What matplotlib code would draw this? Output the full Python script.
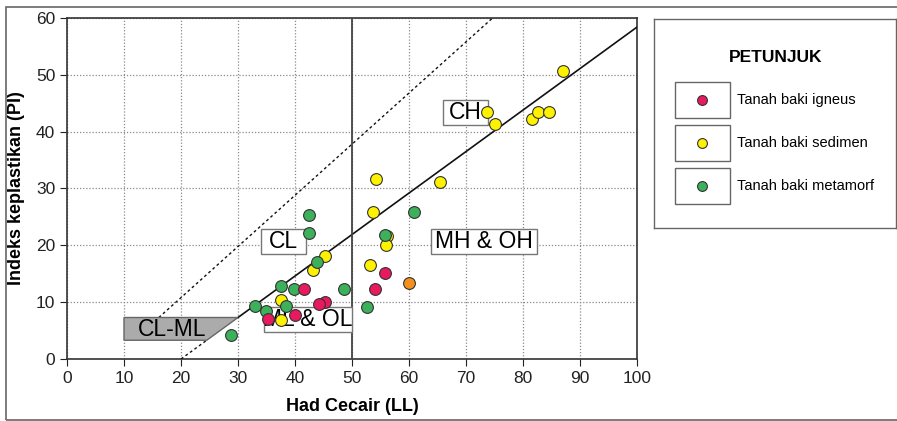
import numpy as np
import matplotlib
matplotlib.use("Agg")
import matplotlib.pyplot as plt
from matplotlib.patches import Rectangle, Polygon

plt.rcParams['font.family'] = ['Liberation Sans', 'DejaVu Sans']

# data (LL, PI)
igneus_ll = [41.6, 55.8, 54.0, 45.3, 44.2, 40.0, 35.3]
igneus_pi = [12.4, 15.1, 12.4, 10.1, 9.6, 7.8, 7.0]

sedimen_ll = [87.1, 73.7, 75.1, 81.6, 82.6, 84.6, 54.2, 65.4, 53.6, 56.2,
              56.0, 45.3, 43.1, 53.2, 37.5, 37.5]
sedimen_pi = [50.7, 43.4, 41.4, 42.3, 43.4, 43.4, 31.6, 31.2, 25.8, 21.6,
              20.0, 18.2, 15.7, 16.6, 10.3, 6.8]

metamorf_ll = [42.4, 42.5, 60.8, 55.8, 43.8, 37.6, 39.9, 48.6, 33.0, 38.4,
               34.9, 52.7, 28.7]
metamorf_pi = [25.4, 22.2, 25.8, 21.9, 17.1, 12.8, 12.4, 12.3, 9.4, 9.4,
               8.5, 9.2, 4.2]

other_ll = [60.0]
other_pi = [13.4]

zone_names = ["CH", "CL", "MH & OH", "ML & OL"]
zone_boxes = [(65.9, 41.1, 8.0, 4.4), (34.0, 18.4, 8.0, 4.4),
              (63.9, 18.5, 18.5, 4.3), (34.6, 4.8, 15.4, 4.4)]

legend_labels = ["Tanah baki igneus", "Tanah baki sedimen", "Tanah baki metamorf"]

RED = "#e8195c"
YEL = "#fff200"
GRN = "#3cb05a"
ORA = "#f5901e"

fig = plt.figure(figsize=(8.97, 4.21), dpi=100)
W, H = 897, 421

# outer frame
fig.patches.append(Rectangle((6 / W, 1 - 420 / H), 1.0, (420 - 7) / H,
                             transform=fig.transFigure, fill=False,
                             edgecolor="#666666", linewidth=1.2))

ax = fig.add_axes([67 / W, 1 - 359 / H, 570 / W, 341 / H])
ax.set_xlim(0, 100)
ax.set_ylim(0, 60)
ax.set_xticks(np.arange(0, 101, 10))
ax.set_yticks(np.arange(0, 61, 10))
ax.grid(True, linestyle=(0, (1, 1.5)), color="#8a8a8a", linewidth=0.9)
ax.set_axisbelow(True)
ax.tick_params(direction="out", length=5, labelsize=12.5, colors="#222222")
for s in ax.spines.values():
    s.set_color("#333333")
    s.set_linewidth(1.2)

# A-line and U-line
ll = np.linspace(30, 100, 50)
ax.plot(ll, 0.73 * (ll - 20), color="#111111", lw=1.2, zorder=3)
ll2 = np.linspace(20, 3.3 / 0.73 + 20, 10)
ax.plot(ll2, 0.73 * (ll2 - 20), color="#111111", lw=1.0, ls=(0, (2, 2)), zorder=3)
ll3 = np.linspace(8 + 7.3 / 0.9, 8 + 60 / 0.9, 50)
ax.plot(ll3, 0.9 * (ll3 - 8), color="#111111", lw=1.0, ls=(0, (2, 2)), zorder=3)
ax.plot([50, 50], [0, 60], color="#444444", lw=1.3, zorder=3)

# CL-ML zone
ax.add_patch(Polygon([(10, 3.3), (3.3 / 0.73 + 20, 3.3), (30, 7.3), (10, 7.3)],
                     closed=True, facecolor="#ababab", edgecolor="#666666",
                     lw=1.0, zorder=3))
ax.text(18.5, 5.2, "CL-ML", fontsize=16.5, ha="center", va="center", zorder=4)

for name, (x0, y0, w, h) in zip(zone_names, zone_boxes):
    ax.add_patch(Rectangle((x0, y0), w, h, facecolor="white",
                           edgecolor="#777777", lw=1.0, zorder=4))
    ax.text(x0 + w / 2, y0 + h / 2, name, fontsize=16.5, ha="center",
            va="center", zorder=5)

mk = dict(s=72, edgecolors="#333333", linewidths=0.8, zorder=6)
ax.scatter(sedimen_ll, sedimen_pi, c=YEL, **mk)
ax.scatter(metamorf_ll, metamorf_pi, c=GRN, **mk)
ax.scatter(igneus_ll, igneus_pi, c=RED, **mk)
ax.scatter(other_ll, other_pi, c=ORA, **mk)

ax.set_xlabel("Had Cecair (LL)", fontsize=13, fontweight="bold", labelpad=9)
ax.set_ylabel("Indeks keplastikan (PI)", fontsize=13, fontweight="bold", labelpad=8)

# legend panel
lx0, lx1, ly0, ly1 = 654, 896, 19, 228
lax = fig.add_axes([lx0 / W, 1 - ly1 / H, (lx1 - lx0) / W, (ly1 - ly0) / H])
lax.set_xlim(lx0, lx1)
lax.set_ylim(ly1, ly0)
lax.set_xticks([])
lax.set_yticks([])
for s in lax.spines.values():
    s.set_color("#666666")
    s.set_linewidth(1.0)
lax.text(776, 58, "PETUNJUK", fontsize=12.5, fontweight="bold",
         ha="center", va="center")
for i, (lab, col) in enumerate(zip(legend_labels, [RED, YEL, GRN])):
    yc = 100 + i * 43
    lax.add_patch(Rectangle((675, yc - 18), 55, 36, fill=False,
                            edgecolor="#666666", lw=1.0))
    lax.scatter([702], [yc], s=50, c=col, edgecolors="#333333", linewidths=0.8)
    lax.text(737, yc, lab, fontsize=10.5, ha="left", va="center")

fig.savefig("out.png", dpi=100)
